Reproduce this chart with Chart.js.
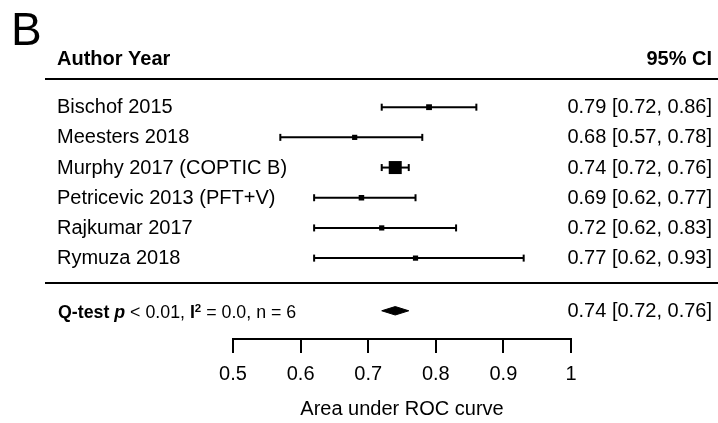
<!DOCTYPE html>
<html>
<head>
<meta charset="utf-8">
<script src="https://cdn.jsdelivr.net/npm/chart.js@4/dist/chart.umd.min.js"></script>
<style>
  body { margin: 0; background: #fff; }
  canvas { display: block; }
</style>
</head>
<body>
<canvas id="chart" width="718" height="423"></canvas>
<script>
const studies = ['Bischof 2015', 'Meesters 2018', 'Murphy 2017 (COPTIC B)', 'Petricevic 2013 (PFT+V)', 'Rajkumar 2017', 'Rymuza 2018']
const auc = [0.79, 0.68, 0.74, 0.69, 0.72, 0.77]
const ciLow = [0.72, 0.57, 0.72, 0.62, 0.62, 0.62]
const ciHigh = [0.86, 0.78, 0.76, 0.77, 0.83, 0.93]
const weights = [10, 8, 50, 9, 8, 8]   // relative weight, sets box size
const pooled = [0.74, 0.72, 0.76]      // estimate, low, high
const xTicks = [0.5, 0.6, 0.7, 0.8, 0.9, 1]
const qTest = {p: '< 0.01', i2: '0.0', n: 6}

// row positions on the (hidden) y scale
const rows = studies.map((s, i) => i + 1)
const headerRow = -0.6
const topRule = 0.06
const midRule = 6.83
const summaryRow = 7.745
const diamondHalf = 0.14

const FONT = '"Liberation Sans", Arial, Helvetica, sans-serif'
const fmt = v => v.toFixed(2)

const ciSets = studies.map((s, i) => ({
  data: [{x: ciLow[i], y: rows[i]}, {x: ciHigh[i], y: rows[i]}],
  showLine: true,
  borderColor: '#000',
  borderWidth: 2,
  pointStyle: 'line',
  pointRotation: 90,
  pointRadius: 3.5,
  pointBorderWidth: 2,
  pointBorderColor: '#000',
  clip: false
}))

const boxes = {
  data: auc.map((v, i) => ({x: v, y: rows[i]})),
  pointStyle: 'rect',
  pointRadius: weights.map(w => 1.3 * Math.sqrt(w)),
  backgroundColor: '#000',
  pointBorderWidth: 0,
  clip: false
}

const diamond = {
  data: [
    {x: pooled[1], y: summaryRow},
    {x: pooled[0], y: summaryRow - diamondHalf},
    {x: pooled[2], y: summaryRow},
    {x: pooled[0], y: summaryRow + diamondHalf},
    {x: pooled[1], y: summaryRow}
  ],
  showLine: true,
  fill: 'shape',
  tension: 0,
  borderColor: '#000',
  borderWidth: 1,
  backgroundColor: '#000',
  pointRadius: 0,
  clip: false
}

const textPlugin = {
  id: 'forestText',
  afterDraw(chart) {
    const ctx = chart.ctx
    const y = chart.scales.y
    const W = chart.width
    ctx.save()
    ctx.fillStyle = '#000'
    ctx.textBaseline = 'alphabetic'

    // panel letter
    ctx.font = '46px ' + FONT
    ctx.textAlign = 'left'
    ctx.fillText('B', 11, 45)

    // header
    ctx.font = 'bold 20px ' + FONT
    ctx.fillText('Author Year', 57, y.getPixelForValue(headerRow) + 6)
    ctx.textAlign = 'right'
    ctx.fillText('95% CI', 712, y.getPixelForValue(headerRow) + 6)

    // rules
    ctx.strokeStyle = '#000'
    ctx.lineWidth = 2
    ;[topRule, midRule].forEach(r => {
      const py = Math.round(y.getPixelForValue(r))
      ctx.beginPath()
      ctx.moveTo(45, py)
      ctx.lineTo(W, py)
      ctx.stroke()
    })

    // study rows
    ctx.font = '20px ' + FONT
    studies.forEach((s, i) => {
      const py = y.getPixelForValue(rows[i]) + 6
      ctx.textAlign = 'left'
      ctx.fillText(s, 57, py)
      ctx.textAlign = 'right'
      ctx.fillText(fmt(auc[i]) + ' [' + fmt(ciLow[i]) + ', ' + fmt(ciHigh[i]) + ']', 712, py)
    })

    // summary row
    const sy = y.getPixelForValue(summaryRow) + 6
    ctx.fillText(fmt(pooled[0]) + ' [' + fmt(pooled[1]) + ', ' + fmt(pooled[2]) + ']', 712, sy)
    ctx.textAlign = 'left'
    const parts = [
      ['Q-test ', 'bold 17.8px ', 0],
      ['p', 'italic bold 17.8px ', 0],
      [' ' + qTest.p + ', ', '17.8px ', 0],
      ['I', 'bold 17.8px ', 0],
      ['2', 'bold 11.5px ', -6],
      [' = ' + qTest.i2 + ', n = ' + qTest.n, '17.8px ', 0]
    ]
    let x = 58
    parts.forEach(([t, f, dy]) => {
      ctx.font = f + FONT
      ctx.fillText(t, x, sy + 1.5 + dy)
      x += ctx.measureText(t).width
    })
    ctx.restore()
  }
}

const chart = new Chart('chart', {
  type: 'scatter',
  data: {
    datasets: [boxes, diamond, ...ciSets]
  },
  options: {
    responsive: false,
    animation: false,
    layout: {padding: {left: 233, right: 147, top: 77, bottom: 0}},
    plugins: {
      legend: {display: false},
      tooltip: {enabled: false}
    },
    scales: {
      x: {
        type: 'linear',
        min: xTicks[0],
        max: xTicks[xTicks.length - 1],
        afterBuildTicks: s => { s.ticks = xTicks.map(v => ({value: v})) },
        afterFit: s => { s.height = 84 },
        ticks: {
          color: '#000',
          padding: 9,
          font: {family: FONT, size: 20},
          callback: v => String(v)
        },
        grid: {
          drawOnChartArea: false,
          drawTicks: true,
          tickLength: 14,
          color: '#000',
          lineWidth: 2
        },
        border: {display: true, color: '#000', width: 2},
        title: {
          display: true,
          text: 'Area under ROC curve',
          color: '#000',
          font: {family: FONT, size: 20},
          padding: {top: 4, bottom: 2}
        }
      },
      y: {
        display: false,
        reverse: true,
        min: 0,
        max: 8.68
      }
    }
  },
  plugins: [textPlugin]
})
</script>
</body>
</html>
